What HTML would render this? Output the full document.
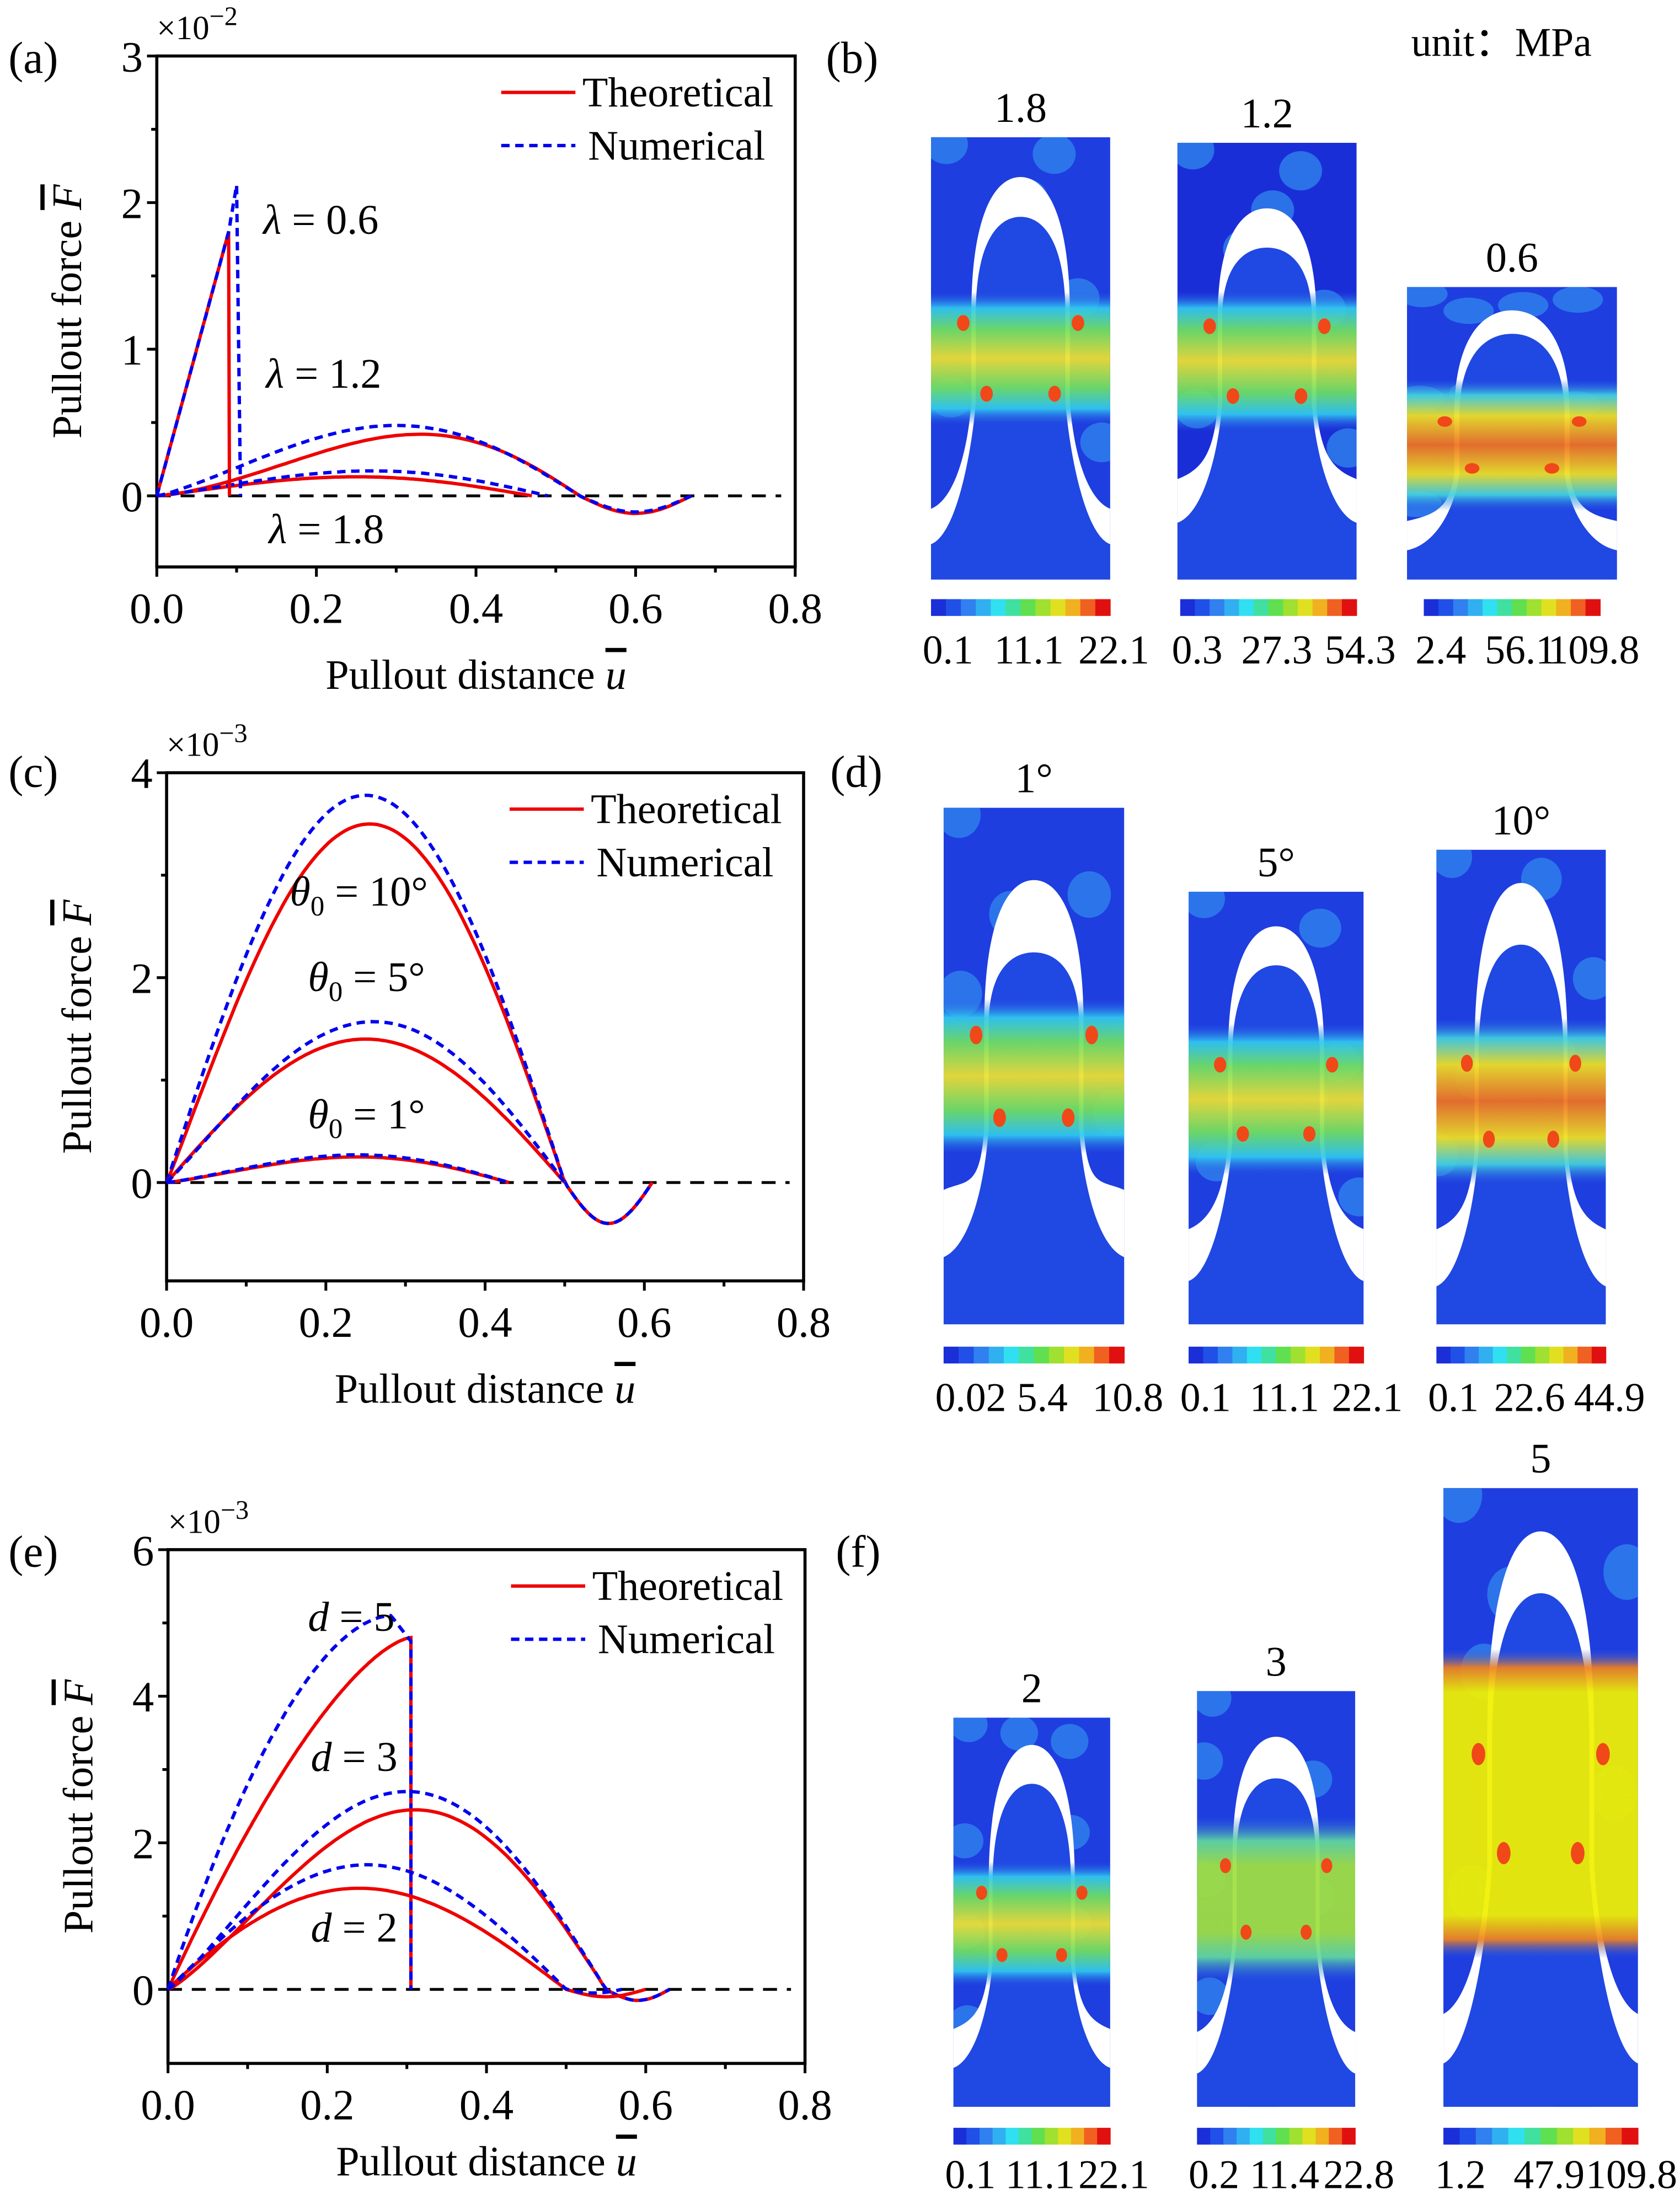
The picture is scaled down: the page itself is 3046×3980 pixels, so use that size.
<!DOCTYPE html>
<html><head><meta charset="utf-8"><style>html,body{margin:0;padding:0;background:#fff;overflow:hidden}svg{display:block}</style></head>
<body>
<svg id="s" xmlns="http://www.w3.org/2000/svg" width="3046" height="3980" viewBox="0 0 1200 1568" preserveAspectRatio="none" font-family="Liberation Serif, serif">
<defs>
<linearGradient id="band" x1="0" y1="0" x2="0" y2="1">
<stop offset="0" stop-color="#2a5ae0" stop-opacity="0"/>
<stop offset="0.12" stop-color="#30c8f0"/>
<stop offset="0.28" stop-color="#70e060"/>
<stop offset="0.5" stop-color="#f0e030"/>
<stop offset="0.72" stop-color="#70e060"/>
<stop offset="0.88" stop-color="#30c8f0"/>
<stop offset="1" stop-color="#2a5ae0" stop-opacity="0"/>
</linearGradient>
<linearGradient id="bandHot" x1="0" y1="0" x2="0" y2="1">
<stop offset="0" stop-color="#2a5ae0" stop-opacity="0"/>
<stop offset="0.12" stop-color="#40d0e0"/>
<stop offset="0.28" stop-color="#f0e020"/>
<stop offset="0.5" stop-color="#f07020"/>
<stop offset="0.72" stop-color="#f0e020"/>
<stop offset="0.88" stop-color="#40d0e0"/>
<stop offset="1" stop-color="#2a5ae0" stop-opacity="0"/>
</linearGradient>
<linearGradient id="bandYel" x1="0" y1="0" x2="0" y2="1">
<stop offset="0" stop-color="#2a5ae0" stop-opacity="0"/>
<stop offset="0.06" stop-color="#f08020"/>
<stop offset="0.14" stop-color="#f0f000"/>
<stop offset="0.86" stop-color="#f0f000"/>
<stop offset="0.94" stop-color="#f08020"/>
<stop offset="1" stop-color="#2a5ae0" stop-opacity="0"/>
</linearGradient>
<linearGradient id="bandGrn" x1="0" y1="0" x2="0" y2="1">
<stop offset="0" stop-color="#2a5ae0" stop-opacity="0"/>
<stop offset="0.15" stop-color="#60d8a0"/>
<stop offset="0.3" stop-color="#a0e040"/>
<stop offset="0.7" stop-color="#a0e040"/>
<stop offset="0.85" stop-color="#60d8a0"/>
<stop offset="1" stop-color="#2a5ae0" stop-opacity="0"/>
</linearGradient>
</defs>
</svg>
<script>
const S=document.getElementById('s');
let H='';
function axes(o){
 const {x0,x1,yt,yb,ymin,ymax,exp,lab,ytk}=o;
 const X=u=>x0+(u/0.8)*(x1-x0), Y=v=>yb-(v-ymin)/(ymax-ymin)*(yb-yt);
 o.X=X;o.Y=Y;
 H+=`<rect x="${x0}" y="${yt}" width="${x1-x0}" height="${yb-yt}" fill="none" stroke="#000" stroke-width="2.2"/>`;
 for(let i=0;i<=8;i++){const x=X(i*0.1);const L=i%2?4:7;H+=`<line x1="${x}" y1="${yb}" x2="${x}" y2="${yb+L}" stroke="#000" stroke-width="2"/>`;
  if(i%2==0)H+=`<text x="${x}" y="${yb+40}" font-size="31" text-anchor="middle">${(i*0.1).toFixed(1)}</text>`;}
 for(const v of ytk.minor){H+=`<line x1="${x0}" y1="${Y(v)}" x2="${x0-4}" y2="${Y(v)}" stroke="#000" stroke-width="2"/>`;}
 for(const v of ytk.major){H+=`<line x1="${x0}" y1="${Y(v)}" x2="${x0-7}" y2="${Y(v)}" stroke="#000" stroke-width="2"/><text x="${x0-10}" y="${Y(v)+11}" font-size="31" text-anchor="end">${v}</text>`;}
 H+=`<text x="${x0}" y="${yt-12}" font-size="24">×10<tspan dy="-10" font-size="19">−${exp}</tspan></text>`;
 H+=`<text x="${lab.x}" y="${lab.y}" font-size="32">${lab.t}</text>`;
 H+=`<text x="${(x0+x1)/2}" y="${yb+(o.xly||87)}" font-size="30" text-anchor="middle">Pullout distance <tspan font-style="italic" text-decoration="overline">u</tspan></text>`;
 const cy=(yt+yb)/2;
 H+=`<text transform="translate(${x0-54},${cy}) rotate(-90)" font-size="30" text-anchor="middle">Pullout force <tspan font-style="italic" text-decoration="overline">F</tspan></text>`;
 H+=`<line x1="${X(0)}" y1="${Y(0)}" x2="${x1-10}" y2="${Y(0)}" stroke="#000" stroke-width="2" stroke-dasharray="10,7"/>`;
 const lx=x1-210, ly=yt+26;
 H+=`<line x1="${lx}" y1="${ly}" x2="${lx+53}" y2="${ly}" stroke="#e00" stroke-width="2.4"/><text x="${lx+58}" y="${ly+10}" font-size="30">Theoretical</text>`;
 H+=`<line x1="${lx}" y1="${ly+38}" x2="${lx+53}" y2="${ly+38}" stroke="#00e" stroke-width="2.4" stroke-dasharray="6,4"/><text x="${lx+62}" y="${ly+48}" font-size="30">Numerical</text>`;
 return o;
}
function curve(o,f,a,b,num,extra){
 let p=[];const n=120;
 for(let i=0;i<=n;i++){const u=a+(b-a)*i/n;p.push([o.X(u),o.Y(f(u))]);}
 if(extra&&extra.post)for(const q of extra.post)p.push([o.X(q[0]),o.Y(q[1])]);
 H+=`<polyline points="${p.map(q=>q[0].toFixed(1)+','+q[1].toFixed(1)).join(' ')}" fill="none" stroke="${num?'#00e':'#e00'}" stroke-width="2.4" ${num?'stroke-dasharray="6,4"':''}/>`;
}
function hump(A,up,z,m,e){
 return u=>{
  if(u<=z){const t=u/z,tp=up/z;const a=Math.log(0.5)/Math.log(tp);
   return A*Math.sin(Math.PI*Math.pow(t,a));}
  if(u<=e)return -m*Math.sin(Math.PI*(u-z)/(e-z));
  return 0;};
}
function ptxt(x,y,t,s){H+=`<text x="${x}" y="${y}" font-size="${s||30}">${t}</text>`;}
let A=axes({x0:112,x1:568,yt:40,yb:405,ymin:-0.485,ymax:3,exp:2,lab:{x:6,y:52,t:'(a)'},ytk:{major:[0,1,2,3],minor:[0.5,1.5,2.5]}});
curve(A,hump(0.42,0.33,0.53,0.12,0.67),0,0.67,false);
curve(A,hump(0.48,0.3,0.53,0.11,0.67),0,0.67,true);
curve(A,hump(0.13,0.25,0.47,0,0.47),0,0.47,false);
curve(A,hump(0.17,0.27,0.49,0,0.49),0,0.49,true);
curve(A,u=>u/0.09*1.8,0,0.09,false,{post:[[0.091,0]]});
curve(A,u=>u<0.09?u/0.09*1.8:1.8+(u-0.09)*32,0,0.1,true,{post:[[0.105,0]]});
ptxt(188,167,'<tspan font-style="italic">λ</tspan> = 0.6');
ptxt(190,277,'<tspan font-style="italic">λ</tspan> = 1.2');
ptxt(192,388,'<tspan font-style="italic">λ</tspan> = 1.8');
let C=axes({x0:119,x1:574,yt:552,yb:915,ymin:-0.96,ymax:4,exp:3,lab:{x:6,y:562,t:'(c)'},ytk:{major:[0,2,4],minor:[1,3]}});
curve(C,hump(3.5,0.255,0.5,0.4,0.61),0,0.61,false);
curve(C,hump(3.78,0.25,0.5,0.4,0.61),0,0.61,true);
curve(C,hump(1.4,0.25,0.5,0,0.5),0,0.5,false);
curve(C,hump(1.57,0.26,0.5,0,0.5),0,0.5,true);
curve(C,hump(0.25,0.24,0.43,0,0.43),0,0.43,false);
curve(C,hump(0.27,0.24,0.43,0,0.43),0,0.43,true);
ptxt(207,647,'<tspan font-style="italic">θ</tspan><tspan font-size="20" dy="7">0</tspan><tspan dy="-7"> = 10°</tspan>');
ptxt(220,708,'<tspan font-style="italic">θ</tspan><tspan font-size="20" dy="7">0</tspan><tspan dy="-7"> = 5°</tspan>');
ptxt(220,806,'<tspan font-style="italic">θ</tspan><tspan font-size="20" dy="7">0</tspan><tspan dy="-7"> = 1°</tspan>');
let E=axes({x0:120,x1:575,yt:1107,yb:1474,ymin:-1.01,ymax:6,exp:3,xly:80,lab:{x:6,y:1119,t:'(e)'},ytk:{major:[0,2,4,6],minor:[1,3,5]}});
curve(E,u=>4.8*(1-Math.pow(1-u/0.305,1.5)),0,0.305,false,{post:[[0.305,0]]});
curve(E,u=>u<0.28?5.1*(1-Math.pow(1-u/0.28,1.8)):5.1-(u-0.28)*14,0,0.305,true,{post:[[0.305,0]]});
curve(E,hump(2.45,0.31,0.55,0.15,0.63),0,0.63,false);
curve(E,hump(2.7,0.3,0.55,0.15,0.63),0,0.63,true);
curve(E,hump(1.38,0.24,0.5,0.1,0.6),0,0.6,false);
curve(E,hump(1.7,0.25,0.5,0.05,0.57),0,0.57,true);
ptxt(220,1165,'<tspan font-style="italic">d</tspan> = 5');
ptxt(222,1265,'<tspan font-style="italic">d</tspan> = 3');
ptxt(222,1387,'<tspan font-style="italic">d</tspan> = 2');
ptxt(590,52,'(b)',32);ptxt(593,562,'(d)',32);ptxt(597,1119,'(f)',32);
ptxt(1008,40,'unit：MPa',29);
const cols=['#1a2fd8','#2050e8','#3080f0','#30b0f0','#30e0f0','#40e0a0','#60e050','#a0e030','#e0e020','#f0b020','#f06020','#e01010'];
function cbar(x,y,w,labels,dy){
 dy=dy||46;
 const sw=w/12;for(let i=0;i<12;i++)H+=`<rect x="${x+i*sw}" y="${y}" width="${sw+0.3}" height="12" fill="${cols[i]}"/>`;
 H+=`<text x="${x-6}" y="${y+dy}" font-size="29">${labels[0]}</text><text x="${x+w/2+6}" y="${y+dy}" font-size="29" text-anchor="middle">${labels[1]}</text><text x="${x+w+28}" y="${y+dy}" font-size="29" text-anchor="end">${labels[2]}</text>`;
}
function prof(hw,top,exitv,s1,s2){
 const L=hw, R=1-hw;
 return `M0,${exitv} C${hw*0.55},${exitv-0.02} ${hw*0.9},${s2+0.12} ${L},${s2} L${L},${s1} C${L},${top+(s1-top)*0.3} ${0.5-(0.5-hw)*0.55},${top} 0.5,${top} C${0.5+(0.5-hw)*0.55},${top} ${R},${top+(s1-top)*0.3} ${R},${s1} L${R},${s2} C${1-hw*0.9},${s2+0.12} ${1-hw*0.55},${exitv-0.02} 1,${exitv} L1,1.01 L0,1.01 Z`;
}
let cid=0;
function cont(x,y,w,h,p,grad,title,ttlY,bg){
 cid++;const cx=x+w/2;
 const bc=p.bc, s1=bc-0.1, s2=bc+0.1, hw=0.25;
 H+=`<clipPath id="c${cid}"><rect x="${x}" y="${y}" width="${w}" height="${h}"/></clipPath><g clip-path="url(#c${cid})">`;
 H+=`<rect x="${x}" y="${y}" width="${w}" height="${h}" fill="${bg||'#1e3ee0'}"/>`;
 for(let i=0;i<10;i++){const px=x+((i*37+11)%w),py=y+((i*71+5)%h);H+=`<ellipse cx="${px}" cy="${py}" rx="${w*0.12}" ry="${h*0.045}" fill="#2f82ec" opacity="0.8"/>`;}
 H+=`<g transform="translate(${x},${y}) scale(${w},${h})">`;
 H+=`<path d="${prof(hw-0.025,p.to,p.eo,s1,s2)}" fill="#fff"/>`;
 H+=`<path d="${prof(hw,p.ti,p.ei,s1,s2)}" fill="#2048e2"/>`;
 H+=`<rect x="0" y="${bc-p.bh/2}" width="1" height="${p.bh}" fill="url(#${grad})" opacity="0.93"/>`;
 H+=`</g>`;
 for(const [ux,uy] of [[hw-0.07,s1+0.02],[1-hw+0.07,s1+0.02],[hw+0.06,s2-0.02],[1-hw-0.06,s2-0.02]])
  H+=`<ellipse cx="${x+ux*w}" cy="${y+uy*h}" rx="${w*0.035}" ry="${h*0.018}" fill="#f04818"/>`;
 H+=`</g>`;
 H+=`<text x="${cx}" y="${ttlY}" font-size="30" text-anchor="middle">${title}</text>`;
}
cont(665,98,128,316,{to:.09,ti:.18,eo:.84,ei:.92,bc:.5,bh:.3},'band','1.8',87);
cont(841,102,128,312,{to:.15,ti:.24,eo:.77,ei:.87,bc:.5,bh:.32},'band','1.2',91,'#1a2ed8');
cont(1005,205,150,209,{to:.08,ti:.16,eo:.8,ei:.9,bc:.54,bh:.45},'bandHot','0.6',194);
cbar(665,428,128,['0.1','11.1','22.1']);cbar(843,428,126,['0.3','27.3','54.3']);cbar(1017,428,126,['2.4','56.1','109.8']);
cont(674,577,129,369,{to:.14,ti:.28,eo:.74,ei:.87,bc:.52,bh:.3},'band','1°',566);
cont(849,637,125,309,{to:.08,ti:.17,eo:.78,ei:.9,bc:.48,bh:.35},'band','5°',626);
cont(1026,607,121,339,{to:.07,ti:.2,eo:.8,ei:.92,bc:.53,bh:.35},'bandHot','10°',596);
cbar(674,962,129,['0.02','5.4','10.8']);cbar(849,962,125,['0.1','11.1','22.1']);cbar(1026,962,121,['0.1','22.6','44.9']);
cont(681,1227,112,278,{to:.07,ti:.17,eo:.8,ei:.9,bc:.53,bh:.32},'band','2',1216);
cont(855,1208,113,297,{to:.11,ti:.21,eo:.82,ei:.92,bc:.5,bh:.4},'bandGrn','3',1197);
cont(1031,1063,139,442,{to:.07,ti:.17,eo:.85,ei:.93,bc:.51,bh:.5},'bandYel','5',1052);
cbar(681,1520,112,['0.1','11.1','22.1'],43);cbar(855,1520,113,['0.2','11.4','22.8'],43);cbar(1031,1520,139,['1.2','47.9','109.8'],43);
S.insertAdjacentHTML('beforeend',H);
</script>
</body></html>
